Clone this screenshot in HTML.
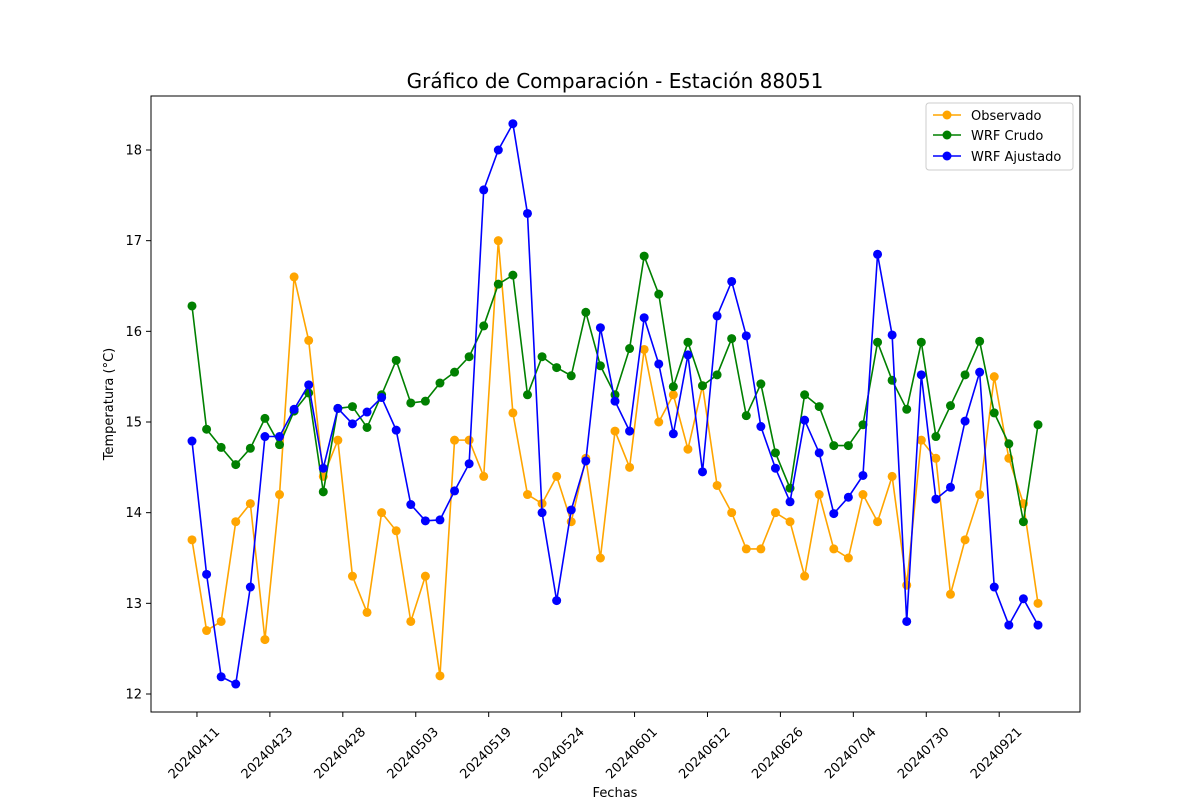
<!DOCTYPE html>
<html><head><meta charset="utf-8"><style>
body{margin:0;background:#fff}
svg text{font-family:"DejaVu Sans","Liberation Sans",sans-serif;fill:#000}
</style></head><body>
<svg id="chart" width="1200" height="800" xmlns="http://www.w3.org/2000/svg">
<text x="615" y="88" text-anchor="middle" font-size="20">Gráfico de Comparación - Estación 88051</text>
<rect x="151" y="96" width="929" height="616" fill="none" stroke="#000" stroke-width="1"/>
<g id="yaxis"></g>
<g id="xaxis"></g>
<g id="series"></g>
<text x="615" y="797" text-anchor="middle" font-size="13">Fechas</text>
<text transform="translate(113,404) rotate(-90)" text-anchor="middle" font-size="13">Temperatura (°C)</text>
<g>
<rect x="926" y="103" width="147" height="67" rx="3" fill="#fff" stroke="#ccc"/>
<g><line x1="933" y1="115" x2="961" y2="115" stroke="orange" stroke-width="1.5"/><circle cx="947" cy="115" r="4.5" fill="orange"/><text x="971" y="120" font-size="13">Observado</text></g>
<g><line x1="933" y1="135" x2="961" y2="135" stroke="green" stroke-width="1.5"/><circle cx="947" cy="135" r="4.5" fill="green"/><text x="971" y="140" font-size="13">WRF Crudo</text></g>
<g><line x1="933" y1="156" x2="961" y2="156" stroke="blue" stroke-width="1.5"/><circle cx="947" cy="156" r="4.5" fill="blue"/><text x="971" y="161" font-size="13">WRF Ajustado</text></g>
</g>
</svg>
<script>
const tickLabels=["20240411","20240423","20240428","20240503","20240519","20240524","20240601","20240612","20240626","20240704","20240730","20240921"];
const yTicks=[12,13,14,15,16,17,18];
const observado=[13.7,12.7,12.8,13.9,14.1,12.6,14.2,16.6,15.9,14.4,14.8,13.3,12.9,14.0,13.8,12.8,13.3,12.2,14.8,14.8,14.4,17.0,15.1,14.2,14.1,14.4,13.9,14.6,13.5,14.9,14.5,15.8,15.0,15.3,14.7,15.4,14.3,14.0,13.6,13.6,14.0,13.9,13.3,14.2,13.6,13.5,14.2,13.9,14.4,13.2,14.8,14.6,13.1,13.7,14.2,15.5,14.6,14.1,13.0];
const wrfCrudo=[16.28,14.92,14.72,14.53,14.71,15.04,14.75,15.12,15.32,14.23,15.15,15.17,14.94,15.30,15.68,15.21,15.23,15.43,15.55,15.72,16.06,16.52,16.62,15.30,15.72,15.60,15.51,16.21,15.62,15.30,15.81,16.83,16.41,15.39,15.88,15.40,15.52,15.92,15.07,15.42,14.66,14.27,15.30,15.17,14.74,14.74,14.97,15.88,15.46,15.14,15.88,14.84,15.18,15.52,15.89,15.10,14.76,13.90,14.97];
const wrfAjustado=[14.79,13.32,12.19,12.11,13.18,14.84,14.84,15.14,15.41,14.49,15.15,14.98,15.11,15.27,14.91,14.09,13.91,13.92,14.24,14.54,17.56,18.00,18.29,17.30,14.00,13.03,14.03,14.57,16.04,15.23,14.90,16.15,15.64,14.87,15.74,14.45,16.17,16.55,15.95,14.95,14.49,14.12,15.02,14.66,13.99,14.17,14.41,16.85,15.96,12.80,15.52,14.15,14.28,15.01,15.55,13.18,12.76,13.05,12.76];
const NS="http://www.w3.org/2000/svg";
function xs(i){return 192+i*(1038-192)/(observado.length-1);}
function ys(v){return 694-(v-12)*(694-150)/6;}
const ya=document.getElementById('yaxis');
yTicks.forEach(t=>{
  const l=document.createElementNS(NS,'line');
  
  
  l.setAttribute('x1',146);l.setAttribute('x2',151);l.setAttribute('y1',ys(t));l.setAttribute('y2',ys(t));l.setAttribute('stroke','#000');
  ya.appendChild(l);
  const tx=document.createElementNS(NS,'text');
  
  
  tx.setAttribute('x',142);tx.setAttribute('y',ys(t)+4.5);tx.setAttribute('text-anchor','end');tx.setAttribute('font-size','13');
  tx.textContent=t;ya.appendChild(tx);
});
const xa=document.getElementById('xaxis');
tickLabels.forEach((lab,k)=>{
  const x=xs(0.34+5*k);
  const l=document.createElementNS(NS,'line');
  
  
  l.setAttribute('x1',x);l.setAttribute('x2',x);l.setAttribute('y1',712);l.setAttribute('y2',717);l.setAttribute('stroke','#000');
  xa.appendChild(l);
  const tx=document.createElementNS(NS,'text');
  
  
  tx.setAttribute('text-anchor','middle');tx.setAttribute('font-size','13');
  tx.setAttribute('transform','translate('+x+',756) rotate(-45)');
  tx.textContent=lab;xa.appendChild(tx);
});
const sg=document.getElementById('series');
[[observado,'orange','observado'],[wrfCrudo,'green','wrf-crudo'],[wrfAjustado,'blue','wrf-ajustado']].forEach(([d,c,n])=>{
  const p=document.createElementNS(NS,'polyline');
  
  
  p.setAttribute('points',d.map((v,i)=>xs(i)+','+ys(v)).join(' '));
  p.setAttribute('fill','none');p.setAttribute('stroke',c);p.setAttribute('stroke-width','1.6');
  sg.appendChild(p);
  d.forEach((v,i)=>{
    const ci=document.createElementNS(NS,'circle');
    
    
    ci.setAttribute('cx',xs(i));ci.setAttribute('cy',ys(v));ci.setAttribute('r',4.5);ci.setAttribute('fill',c);
    sg.appendChild(ci);
  });
});
</script>
</body></html>
